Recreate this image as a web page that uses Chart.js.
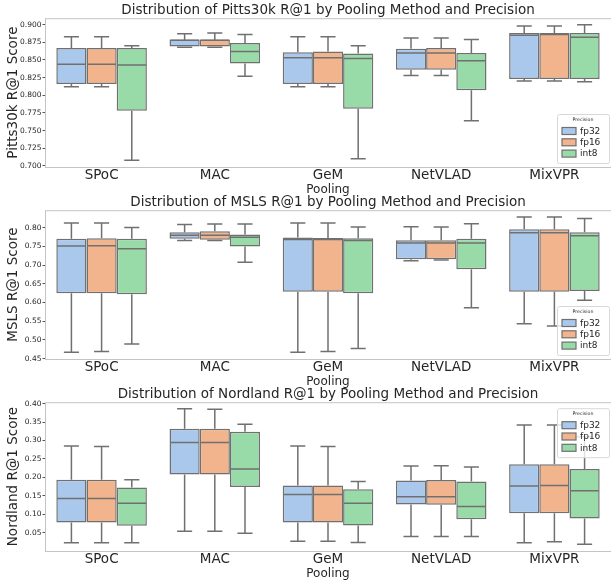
<!DOCTYPE html>
<html>
<head>
<meta charset="utf-8">
<script src="https://cdn.jsdelivr.net/npm/chart.js@4.4.0/dist/chart.umd.min.js"></script>
<style>
  html, body { margin: 0; padding: 0; background: #fff; overflow: hidden; }
  #wrap { position: relative; width: 611px; height: 582px; }
  .panel { position: absolute; left: 0; width: 611px; height: 200px; }
</style>
</head>
<body>
<div id="wrap">
  <div class="panel" style="top:0px"><canvas id="pitts" width="611" height="200"></canvas></div>
  <div class="panel" style="top:192px"><canvas id="msls" width="611" height="200"></canvas></div>
  <div class="panel" style="top:384px"><canvas id="nordland" width="611" height="200"></canvas></div>
</div>
<script>
// categories
var poolings = ['SPoC', 'MAC', 'GeM', 'NetVLAD', 'MixVPR'];
var precisions = ['fp32', 'fp16', 'int8'];

// each entry: [whisker low, Q1, median, Q3, whisker high], one per pooling method
var pittsFp32 = [[0.812, 0.816, 0.844, 0.867, 0.883], [0.868, 0.869, 0.878, 0.879, 0.887], [0.812, 0.816, 0.853, 0.861, 0.883], [0.828, 0.836, 0.860, 0.866, 0.881], [0.820, 0.823, 0.885, 0.888, 0.898]];
var pittsFp16 = [[0.812, 0.816, 0.844, 0.867, 0.883], [0.868, 0.869, 0.878, 0.879, 0.888], [0.812, 0.816, 0.853, 0.862, 0.883], [0.828, 0.836, 0.860, 0.867, 0.881], [0.820, 0.823, 0.886, 0.888, 0.898]];
var pittsInt8 = [[0.708, 0.778, 0.843, 0.867, 0.870], [0.827, 0.845, 0.862, 0.874, 0.886], [0.710, 0.781, 0.852, 0.859, 0.870], [0.764, 0.807, 0.849, 0.860, 0.879], [0.819, 0.823, 0.882, 0.888, 0.900]];

var mslsFp32 = [[0.467, 0.625, 0.751, 0.771, 0.813], [0.766, 0.771, 0.780, 0.788, 0.809], [0.467, 0.629, 0.769, 0.774, 0.813], [0.712, 0.716, 0.759, 0.767, 0.803], [0.543, 0.629, 0.787, 0.796, 0.829]];
var mslsFp16 = [[0.469, 0.625, 0.752, 0.772, 0.813], [0.766, 0.768, 0.780, 0.791, 0.810], [0.469, 0.629, 0.769, 0.773, 0.813], [0.714, 0.716, 0.759, 0.767, 0.802], [0.537, 0.629, 0.787, 0.796, 0.829]];
var mslsInt8 = [[0.489, 0.622, 0.744, 0.771, 0.801], [0.708, 0.750, 0.775, 0.782, 0.810], [0.477, 0.625, 0.766, 0.772, 0.802], [0.586, 0.689, 0.759, 0.771, 0.811], [0.606, 0.631, 0.779, 0.788, 0.825]];

var nordFp32 = [[0.023, 0.078, 0.143, 0.194, 0.285], [0.054, 0.208, 0.295, 0.332, 0.386], [0.027, 0.078, 0.154, 0.178, 0.285], [0.040, 0.127, 0.148, 0.192, 0.231], [0.023, 0.103, 0.177, 0.236, 0.342]];
var nordFp16 = [[0.023, 0.078, 0.143, 0.194, 0.284], [0.054, 0.208, 0.295, 0.332, 0.385], [0.027, 0.078, 0.154, 0.178, 0.284], [0.040, 0.126, 0.148, 0.193, 0.232], [0.026, 0.103, 0.178, 0.236, 0.342]];
var nordInt8 = [[0.023, 0.069, 0.130, 0.173, 0.194], [0.049, 0.174, 0.223, 0.324, 0.344], [0.024, 0.070, 0.130, 0.168, 0.189], [0.040, 0.087, 0.121, 0.189, 0.228], [0.019, 0.089, 0.164, 0.223, 0.310]];

// y tick labels
var pittsTicks = [0.700, 0.725, 0.750, 0.775, 0.800, 0.825, 0.850, 0.875, 0.900];
var mslsTicks = [0.45, 0.50, 0.55, 0.60, 0.65, 0.70, 0.75, 0.80];
var nordTicks = [0.05, 0.10, 0.15, 0.20, 0.25, 0.30, 0.35, 0.40];

var boxColors = ['#aac8ec', '#f2b48c', '#98dba8'];
var lineColor = '#707070';
var textColor = '#262626';
var FONT = 'DejaVu Sans';

// whiskers, caps and median lines on top of the floating bars
var boxWhiskers = {
  id: 'boxWhiskers',
  afterDatasetsDraw: function (chart) {
    var ctx = chart.ctx, y = chart.scales.y;
    ctx.save();
    ctx.strokeStyle = lineColor;
    ctx.lineWidth = 1.5;
    chart.data.datasets.forEach(function (ds, i) {
      chart.getDatasetMeta(i).data.forEach(function (bar, j) {
        var s = ds.stats[j];
        var x = bar.x, half = bar.width / 2, cap = bar.width / 4;
        ctx.beginPath();
        ctx.moveTo(x, y.getPixelForValue(s[3])); ctx.lineTo(x, y.getPixelForValue(s[4]));
        ctx.moveTo(x, y.getPixelForValue(s[1])); ctx.lineTo(x, y.getPixelForValue(s[0]));
        ctx.moveTo(x - cap, y.getPixelForValue(s[4])); ctx.lineTo(x + cap, y.getPixelForValue(s[4]));
        ctx.moveTo(x - cap, y.getPixelForValue(s[0])); ctx.lineTo(x + cap, y.getPixelForValue(s[0]));
        ctx.moveTo(x - half + 0.75, y.getPixelForValue(s[2])); ctx.lineTo(x + half - 0.75, y.getPixelForValue(s[2]));
        ctx.stroke();
      });
    });
    ctx.restore();
  }
};

// axes frame
var frame = {
  id: 'frame',
  afterDraw: function (chart) {
    var a = chart.chartArea, ctx = chart.ctx;
    ctx.save();
    ctx.strokeStyle = '#c4c4c4';
    ctx.lineWidth = 1;
    ctx.strokeRect(a.left + 0.5, a.top + 0.5, a.right - a.left, a.bottom - a.top);
    ctx.restore();
  }
};

// matplotlib-style legend inside the axes
var boxLegend = {
  id: 'boxLegend',
  afterDraw: function (chart, args, opts) {
    var a = chart.chartArea, ctx = chart.ctx;
    var w = 52, h = 49;
    var x0 = a.right - 2 - w;
    var y0 = opts.corner === 'top' ? a.top + 6 : a.bottom - 4 - h;
    ctx.save();
    ctx.beginPath();
    ctx.roundRect(x0 + 0.5, y0 + 0.5, w, h, 2);
    ctx.fillStyle = 'rgba(255,255,255,0.8)';
    ctx.fill();
    ctx.strokeStyle = '#d8d8d8';
    ctx.lineWidth = 1;
    ctx.stroke();
    ctx.fillStyle = textColor;
    ctx.textAlign = 'center';
    ctx.textBaseline = 'middle';
    ctx.font = '4.7px "' + FONT + '"';
    ctx.fillText('Precision', x0 + w / 2, y0 + 6);
    ctx.textAlign = 'left';
    ctx.font = '9px "' + FONT + '"';
    chart.data.datasets.forEach(function (ds, i) {
      var yy = y0 + 17 + i * 11.3;
      ctx.fillStyle = ds.backgroundColor;
      ctx.fillRect(x0 + 5, yy - 3.5, 14, 7);
      ctx.strokeStyle = lineColor;
      ctx.lineWidth = 1.2;
      ctx.strokeRect(x0 + 5, yy - 3.5, 14, 7);
      ctx.fillStyle = textColor;
      ctx.fillText(ds.label, x0 + 23, yy + 0.5);
    });
    ctx.restore();
  }
};

function makeBoxChart(id, title, yTitle, series, ticks, range, digits, corner) {
  new Chart(document.getElementById(id), {
    type: 'bar',
    data: {
      labels: poolings,
      datasets: series.map(function (stats, i) {
        return {
          label: precisions[i],
          data: stats.map(function (s) { return [s[1], s[3]]; }),
          stats: stats,
          backgroundColor: boxColors[i],
          borderColor: lineColor,
          borderWidth: 1.5,
          borderSkipped: false,
          categoryPercentage: 0.8,
          barPercentage: 1.0
        };
      })
    },
    options: {
      responsive: false,
      animation: false,
      devicePixelRatio: 1,
      layout: { padding: 0 },
      plugins: {
        legend: { display: false },
        tooltip: { enabled: false },
        title: {
          display: true,
          text: title,
          fullSize: false,
          color: textColor,
          font: { family: FONT, size: 13.5, weight: 'normal' },
          padding: { top: 2, bottom: 0 }
        },
        boxLegend: { corner: corner }
      },
      scales: {
        x: {
          afterFit: function (s) { s.height = 33; },
          grid: { display: false, drawTicks: false },
          border: { display: false },
          ticks: { color: textColor, padding: 2, font: { family: FONT, size: 13.5, lineHeight: 1 } },
          title: {
            display: true,
            text: 'Pooling',
            color: textColor,
            font: { family: FONT, size: 12 },
            padding: { top: 0, bottom: 3 }
          }
        },
        y: {
          min: range[0],
          max: range[1],
          afterFit: function (s) { s.width = 45; },
          afterBuildTicks: function (s) { s.ticks = ticks.map(function (v) { return { value: v }; }); },
          grid: { drawOnChartArea: false, drawTicks: true, tickLength: 2.5, color: '#555555' },
          border: { display: false },
          ticks: {
            color: textColor,
            padding: 1,
            font: { family: FONT, size: 7.5 },
            callback: function (v) { return Number(v).toFixed(digits); }
          },
          title: {
            display: true,
            text: yTitle,
            color: textColor,
            font: { family: FONT, size: 13.5 },
            padding: { top: 5, bottom: 0 }
          }
        }
      }
    },
    plugins: [boxWhiskers, frame, boxLegend]
  });
}

makeBoxChart('pitts', 'Distribution of Pitts30k R@1 by Pooling Method and Precision', 'Pitts30k R@1 Score',
  [pittsFp32, pittsFp16, pittsInt8], pittsTicks, [0.6984, 0.9091], 3, 'bottom');
makeBoxChart('msls', 'Distribution of MSLS R@1 by Pooling Method and Precision', 'MSLS R@1 Score',
  [mslsFp32, mslsFp16, mslsInt8], mslsTicks, [0.4489, 0.8471], 2, 'bottom');
makeBoxChart('nordland', 'Distribution of Nordland R@1 by Pooling Method and Precision', 'Nordland R@1 Score',
  [nordFp32, nordFp16, nordInt8], nordTicks, [0.0007, 0.4039], 2, 'top');
</script>
</body>
</html>
